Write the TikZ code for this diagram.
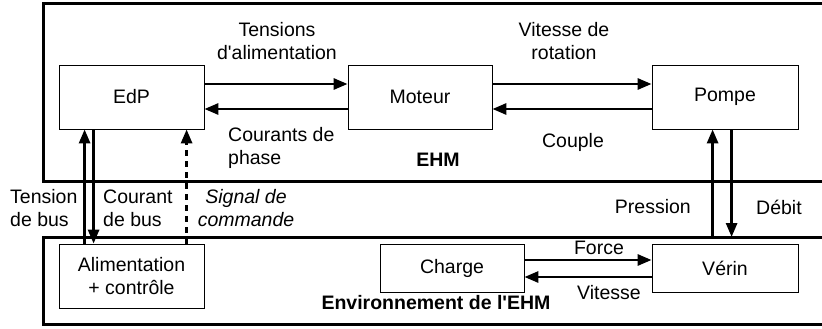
\documentclass[tikz,border=0pt]{standalone}
\usepackage{fontspec}
\setmainfont{Liberation Sans}
\usetikzlibrary{arrows.meta}
\begin{document}
\begin{tikzpicture}[x=1pt,y=-1pt,
  every node/.style={font=\fontsize{19.5}{23}\selectfont},
  blk/.style={draw,line width=0.8pt,inner sep=0pt,align=center},
  frame/.style={line width=3pt},
  arr/.style={line width=2.8pt,-{Triangle[length=14pt,width=11pt]}},
  darr/.style={arr,dash pattern=on 6pt off 5pt},
  lbl/.style={align=center,inner sep=0pt},
  lbll/.style={align=left,inner sep=0pt},
  lblr/.style={align=right,inner sep=0pt},
  ttl/.style={inner sep=0pt,font=\fontsize{19.5}{23}\selectfont\bfseries}]
\useasboundingbox (0,0) rectangle (822,329);
% frames
\draw[frame] (823,4) -- (43,4) -- (43,181) -- (823,181);
\draw[frame] (823,237) -- (43,237) -- (43,324) -- (823,324);
\coordinate (envtop) at (0,237);
% blocks
\node[blk,minimum width=145pt,minimum height=64pt] (edp) at (131.5,97) {EdP};
\node[blk,minimum width=144pt,minimum height=64pt] (mot) at (420,97) {Moteur};
\node[blk,minimum width=146pt,minimum height=64pt] (pom) at (725,97) {Pompe};
\node[blk,minimum width=145pt,minimum height=64pt] (alim) at (131.5,276) {Alimentation\\+ contrôle};
\node[blk,minimum width=144pt,minimum height=48pt] (chg) at (452,268) {Charge};
\node[blk,minimum width=146pt,minimum height=48pt] (ver) at (725,268) {Vérin};
% horizontal arrows
\draw[arr] ([yshift=13pt]edp.east) -- ([yshift=13pt]mot.west);
\draw[arr] ([yshift=-12pt]mot.west) -- ([yshift=-12pt]edp.east);
\draw[arr] ([yshift=13pt]mot.east) -- ([yshift=13pt]pom.west);
\draw[arr] ([yshift=-12pt]pom.west) -- ([yshift=-12pt]mot.east);
\draw[arr] ([yshift=8pt]chg.east) -- ([yshift=8pt]ver.west);
\draw[arr] ([yshift=-9pt]ver.west) -- ([yshift=-9pt]chg.east);
% vertical arrows left
\draw[arr] ([xshift=26pt]alim.north west) -- ([xshift=26pt]edp.south west);
\draw[arr] ([xshift=35pt]edp.south west) -- ([xshift=35pt]alim.north west);
\draw[darr] ([xshift=128pt]alim.north west) -- ([xshift=128pt]edp.south west);
% vertical arrows right
\coordinate (pu) at ([xshift=61pt]pom.south west);
\coordinate (pd) at ([xshift=80pt]pom.south west);
\draw[arr] (pu |- envtop) -- (pu);
\draw[arr] (pd) -- (pd |- envtop);
% labels
\node[lbl] (l1) at (277,41) {Tensions\\d\textquotesingle alimentation};
\node[lbll,anchor=west] (l2) at (228,148) {Courants de\\phase};
\node[lbl] (l3) at (564,41) {Vitesse de\\rotation};
\node[lbl] (l4) at (573,142) {Couple};
\node[ttl] (l5) at (438,160) {EHM};
\node[lbll,anchor=west] (l6) at (10,208) {Tension\\de bus};
\node[lbll,anchor=west] (l7) at (103,208) {Courant\\de bus};
\node[lbl,font=\fontsize{19.5}{23}\selectfont\itshape] (l8) at (246,208) {Signal de\\commande};
\node[lblr,anchor=east] (l9) at (691,207) {Pression};
\node[lbll,anchor=west] (l10) at (756,207) {Débit};
\node[lbl] (l11) at (599,248) {Force};
\node[lbl] (l12) at (609,293) {Vitesse};
\node[ttl] (l13) at (436,303) {Environnement de l\textquotesingle EHM};
\end{tikzpicture}
\end{document}
